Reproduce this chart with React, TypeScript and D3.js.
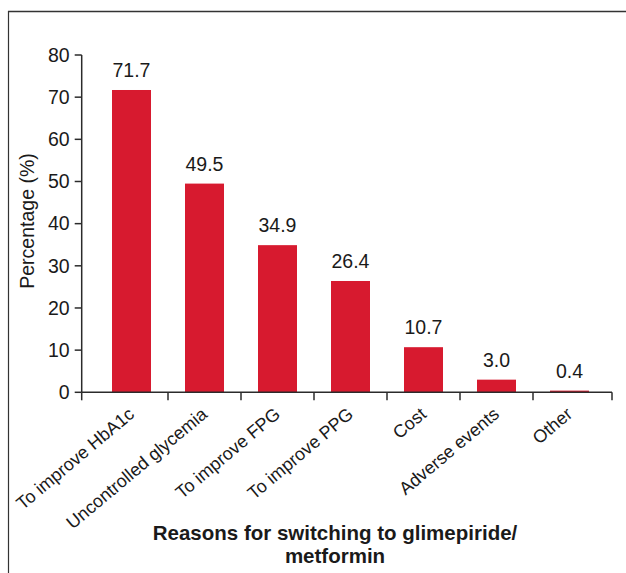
import React from "react";
import * as d3 from "d3";

// Reasons for switching therapy and share of patients (%)
const categories = [
  "To improve HbA1c",
  "Uncontrolled glycemia",
  "To improve FPG",
  "To improve PPG",
  "Cost",
  "Adverse events",
  "Other",
];
const percentages = [71.7, 49.5, 34.9, 26.4, 10.7, 3.0, 0.4];
const yTicks = [0, 10, 20, 30, 40, 50, 60, 70, 80];

const WIDTH = 626;
const HEIGHT = 573;
const FONT = "'Liberation Sans', Arial, Helvetica, sans-serif";
const BAR_COLOR = "#d71a2f";
const AXIS_COLOR = "#2b2b2b";

export default function App() {
  const y = d3.scaleLinear().domain([0, 80]).range([392.3, 55]);
  const x = d3
    .scaleBand<string>()
    .domain(categories)
    .range([95, 606])
    .paddingInner(0.466)
    .paddingOuter(0.233);

  const axisLeft = 81.7;
  const axisRight = 612;
  const baseY = y(0);
  const step = x.step();
  const bw = x.bandwidth();

  // Tick marks sit between neighbouring bars, plus both ends of the axis
  const xTickPositions = [
    axisLeft,
    ...categories.slice(1).map((c) => (x(c) as number) - (step - bw) / 2),
    axisRight,
  ];

  return (
    <svg
      width={WIDTH}
      height={HEIGHT}
      style={{ position: "absolute", left: 0, top: 0, background: "#fff" }}
      fontFamily={FONT}
    >
      <rect x={0} y={0} width={WIDTH} height={HEIGHT} fill="#fff" />
      {/* frame */}
      <line x1={8} x2={WIDTH} y1={11.5} y2={11.5} stroke="#333" strokeWidth={1.6} />
      <line x1={8.5} x2={8.5} y1={11} y2={HEIGHT} stroke="#333" strokeWidth={1.2} />

      {/* bars */}
      {categories.map((c, i) => (
        <rect
          key={c}
          x={x(c)}
          y={y(percentages[i])}
          width={bw}
          height={baseY - y(percentages[i])}
          fill={BAR_COLOR}
        />
      ))}

      {/* value labels */}
      {categories.map((c, i) => (
        <text
          key={c}
          x={(x(c) as number) + bw / 2}
          y={y(percentages[i]) - 13}
          textAnchor="middle"
          fontSize={19.5}
          fill="#1a1a1a"
        >
          {percentages[i].toFixed(1)}
        </text>
      ))}

      {/* y axis */}
      <line x1={axisLeft} x2={axisLeft} y1={y(80)} y2={baseY} stroke={AXIS_COLOR} strokeWidth={1.5} />
      {yTicks.map((t) => (
        <g key={t} transform={`translate(0,${y(t)})`}>
          <line x1={axisLeft - 7} x2={axisLeft} stroke={AXIS_COLOR} strokeWidth={1.5} />
          <text x={axisLeft - 12} dy="0.35em" textAnchor="end" fontSize={19.5} fill="#1a1a1a">
            {t}
          </text>
        </g>
      ))}

      {/* x axis */}
      <line x1={axisLeft} x2={axisRight} y1={baseY} y2={baseY} stroke={AXIS_COLOR} strokeWidth={1.5} />
      {xTickPositions.map((p, i) => (
        <line key={i} x1={p} x2={p} y1={baseY} y2={baseY + 8} stroke={AXIS_COLOR} strokeWidth={1.5} />
      ))}
      {categories.map((c) => (
        <text
          key={c}
          transform={`translate(${(x(c) as number) + bw / 2 + 4},${416}) rotate(-40)`}
          textAnchor="end"
          fontSize={18}
          fill="#1a1a1a"
        >
          {c}
        </text>
      ))}

      {/* axis titles */}
      <text
        transform={`translate(34,${221}) rotate(-90)`}
        textAnchor="middle"
        fontSize={19.5}
        fill="#1a1a1a"
      >
        Percentage (%)
      </text>
      <text x={335} y={540} textAnchor="middle" fontSize={20.5} fontWeight="bold" fill="#1a1a1a">
        Reasons for switching to glimepiride/
      </text>
      <text x={335} y={563} textAnchor="middle" fontSize={20.5} fontWeight="bold" fill="#1a1a1a">
        metformin
      </text>
    </svg>
  );
}
